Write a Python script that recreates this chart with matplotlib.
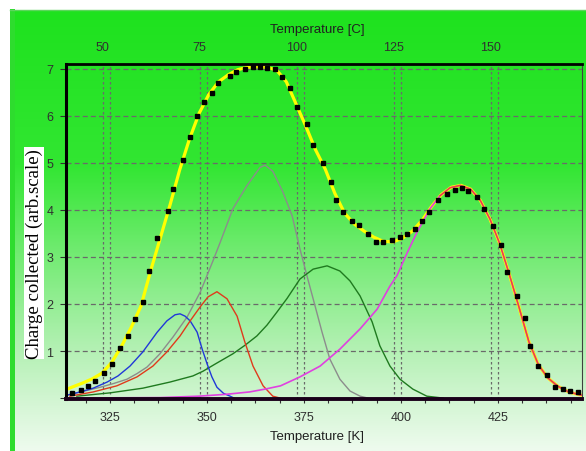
import numpy as np
import matplotlib
matplotlib.use("Agg")
import matplotlib.pyplot as plt
from matplotlib.colors import LinearSegmentedColormap
from matplotlib.patches import Rectangle
from matplotlib.ticker import MultipleLocator

plt.rcParams["font.family"] = ["Liberation Sans", "DejaVu Sans"]

# ── data (temperature in K, charge in arb. units) ──
data_x = [315.2, 317.6, 319.4, 321.2, 323.5, 325.6, 327.6, 329.7, 331.5, 333.5,
          335.1, 337.2, 340.0, 341.3, 343.9, 345.7, 347.5, 349.3, 351.3, 352.9,
          356.0, 357.5, 359.8, 361.9, 363.7, 365.5, 367.5, 369.4, 371.4, 373.2,
          375.8, 377.4, 380.0, 382.0, 383.3, 385.1, 387.4, 389.2, 391.5, 393.6,
          395.4, 397.7, 399.8, 401.6, 403.6, 405.4, 407.3, 409.6, 411.9, 414.0,
          415.8, 417.3, 419.6, 421.4, 423.8, 425.8, 427.4, 430.0, 432.0, 433.3,
          435.4, 437.7, 439.7, 441.8, 443.6, 445.7]
data_y = [0.11, 0.17, 0.26, 0.36, 0.53, 0.72, 1.06, 1.32, 1.68, 2.04,
          2.70, 3.40, 3.98, 4.45, 5.06, 5.55, 6.00, 6.30, 6.49, 6.70,
          6.85, 6.94, 7.00, 7.04, 7.04, 7.02, 7.00, 6.83, 6.60, 6.19,
          5.83, 5.38, 5.00, 4.60, 4.21, 3.96, 3.77, 3.68, 3.49, 3.32,
          3.32, 3.36, 3.43, 3.49, 3.60, 3.77, 3.96, 4.21, 4.34, 4.43,
          4.47, 4.40, 4.28, 4.02, 3.66, 3.26, 2.68, 2.17, 1.70, 1.11,
          0.68, 0.49, 0.23, 0.19, 0.15, 0.13]

fit_x = [313.7, 315.5, 318.0, 320.5, 323.0, 325.5, 328.0, 330.5, 333.0, 335.5,
         338.0, 340.5, 343.0, 345.5, 348.0, 350.5, 353.0, 355.5, 358.0, 360.5,
         363.0, 365.5, 368.0, 370.5, 373.0, 375.5, 378.0, 380.5, 383.0, 385.5,
         388.0, 390.5, 393.0, 395.5, 398.0, 400.5, 403.0, 405.5, 408.0, 410.5,
         413.0, 415.5, 418.0, 420.5, 423.0, 425.5, 428.0, 430.5, 433.0, 435.5,
         438.0, 440.5, 443.0, 445.5, 446.7]
fit_y = [0.18, 0.24, 0.32, 0.41, 0.53, 0.76, 1.10, 1.50, 1.95, 2.70,
         3.40, 4.10, 4.85, 5.50, 6.05, 6.45, 6.72, 6.87, 6.98, 7.03,
         7.04, 7.03, 6.97, 6.72, 6.25, 5.78, 5.28, 4.87, 4.35, 3.93,
         3.70, 3.55, 3.42, 3.33, 3.32, 3.40, 3.55, 3.78, 4.08, 4.33,
         4.48, 4.52, 4.44, 4.20, 3.80, 3.28, 2.62, 1.92, 1.20, 0.70,
         0.42, 0.25, 0.14, 0.08, 0.06]

blue_x = [313.9, 317.3, 320.7, 324.3, 327.1, 330.2, 333.5, 337.2, 339.7, 341.8,
          343.1, 344.4, 345.7, 347.5, 348.8, 350.1, 351.3, 352.6, 354.3, 356.0, 357.0]
blue_y = [0.06, 0.13, 0.21, 0.34, 0.47, 0.68, 0.98, 1.40, 1.64, 1.77,
          1.79, 1.74, 1.64, 1.40, 1.04, 0.72, 0.45, 0.23, 0.10, 0.04, 0.00]

red_x = [314.7, 320.7, 326.8, 332.0, 336.1, 339.7, 343.1, 345.7, 348.3, 350.3,
         352.6, 355.2, 357.8, 359.8, 361.9, 364.5, 367.0, 368.9]
red_y = [0.04, 0.13, 0.26, 0.45, 0.68, 0.98, 1.32, 1.64, 1.94, 2.15,
         2.26, 2.11, 1.74, 1.19, 0.68, 0.26, 0.04, 0.00]

gray_x = [313.9, 318.0, 322.5, 326.0, 329.4, 332.0, 334.6, 337.9, 341.3, 344.9,
          348.3, 351.6, 353.4, 356.7, 360.3, 363.7, 365.0, 367.0, 369.6, 372.0,
          374.0, 375.8, 377.4, 379.7, 381.7, 384.3, 386.9, 389.5, 391.5]
gray_y = [0.06, 0.14, 0.23, 0.31, 0.40, 0.52, 0.66, 0.94, 1.30, 1.72,
          2.25, 2.92, 3.30, 4.02, 4.51, 4.90, 4.95, 4.82, 4.38, 3.87,
          3.17, 2.60, 2.11, 1.40, 0.83, 0.40, 0.15, 0.04, 0.00]

green_x = [316.5, 325.0, 333.5, 340.5, 346.4, 349.0, 352.5, 356.7, 359.8, 362.9,
           365.5, 368.0, 370.7, 374.0, 377.4, 381.0, 384.3, 386.9, 389.5, 392.6,
           394.6, 397.2, 399.8, 403.1, 406.7, 410.9]
green_y = [0.04, 0.11, 0.21, 0.34, 0.47, 0.57, 0.74, 0.94, 1.12, 1.32,
           1.55, 1.82, 2.12, 2.53, 2.74, 2.81, 2.70, 2.49, 2.17, 1.62,
           1.11, 0.68, 0.40, 0.19, 0.04, 0.00]

mag_x = [313.7, 338.0, 348.0, 355.0, 361.0, 365.0, 369.0, 374.0, 379.2, 384.3,
         389.5, 393.9, 397.2, 399.0, 401.6, 404.2, 407.5, 410.1, 412.7, 415.3,
         418.0, 420.5, 423.0, 425.5, 428.0, 430.5, 433.0, 435.5, 438.0, 440.5,
         443.0, 445.5, 446.7]
mag_y = [0.00, 0.01, 0.04, 0.08, 0.13, 0.19, 0.26, 0.45, 0.68, 1.04,
         1.47, 1.89, 2.38, 2.60, 3.08, 3.53, 4.02, 4.30, 4.47, 4.52,
         4.44, 4.20, 3.80, 3.28, 2.62, 1.92, 1.20, 0.70, 0.42, 0.25,
         0.14, 0.08, 0.06]

red2_x = [410.1, 412.7, 415.3, 418.0, 420.5, 423.0, 425.5, 428.0, 430.5, 433.0,
          435.5, 438.0, 440.5, 443.0, 445.5, 446.7]
red2_y = [4.30, 4.47, 4.52, 4.44, 4.20, 3.80, 3.28, 2.62, 1.92, 1.20,
          0.70, 0.42, 0.25, 0.14, 0.08, 0.06]

k_ticks = [325, 350, 375, 400, 425]
c_ticks = [50, 75, 100, 125, 150]
y_ticks = [0, 1, 2, 3, 4, 5, 6, 7]
y_labels = ["", "1", "2", "3", "4", "5", "6", "7"]

W, H = 586, 452
fig = plt.figure(figsize=(W / 100, H / 100), dpi=100)
fig.patch.set_facecolor("white")

# ── background: green -> pale vertical gradient with a frame ──
bg = fig.add_axes([0, 0, 1, 1], zorder=-10)
bg.set_xlim(0, W)
bg.set_ylim(H, 0)
bg.axis("off")
cmap = LinearSegmentedColormap.from_list("bg", [
    (0.00, "#1ee21e"), (0.35, "#32e632"), (0.55, "#72eb72"),
    (0.75, "#aef0ae"), (0.90, "#d6f6d6"), (1.00, "#eefbee")])
bg.imshow(np.linspace(0, 1, 256)[:, None], cmap=cmap, aspect="auto",
          extent=(10, W, H, 12), interpolation="bilinear")
bg.add_patch(Rectangle((10, 10), 5, H - 10, color="#2edc2e", lw=0))
bg.plot([10, W], [10.5, 10.5], color="#5cd65c", lw=1)

# ── main axes ──
ax = fig.add_axes([66 / W, 52 / H, 516 / W, 335 / H])
ax.set_facecolor("none")
ax.set_xlim(313.7, 446.7)
ax.set_ylim(-0.02, 7.1)

ax.set_xticks(k_ticks)
ax.xaxis.set_minor_locator(MultipleLocator(6.25))
ax.set_yticks(y_ticks)
ax.set_yticklabels(y_labels)
ax.tick_params(axis="x", which="both", direction="out", length=3,
               width=0.8, pad=6, labelsize=9, colors="#303030")
ax.tick_params(axis="y", direction="out", length=4, width=0.8, pad=5,
               labelsize=9, colors="#303030")

# grid: horizontal dashed, vertical double dotted (K and C ticks)
ax.grid(True, axis="y", color="#6a6a6a", linestyle=(0, (4, 2.5)), lw=0.9)
ax.grid(True, axis="x", color="#6a6a6a", linestyle=(0, (2, 2)), lw=0.9)
for c in c_ticks:
    ax.axvline(c + 273.15, color="#6a6a6a", linestyle=(0, (2, 2)), lw=0.9, zorder=0.5)

for side, lw, col in [("left", 2.2, "black"), ("top", 2.0, "black"),
                      ("bottom", 2.8, "#1a001a"), ("right", 0.8, "#404040")]:
    ax.spines[side].set_linewidth(lw)
    ax.spines[side].set_color(col)

# components
ax.plot(gray_x, gray_y, color="#8c8c8c", lw=1.0)
ax.plot(green_x, green_y, color="#1f7a1f", lw=1.0)
ax.plot(blue_x, blue_y, color="#2038d8", lw=1.0)
ax.plot(red_x, red_y, color="#e03a1c", lw=1.0)
ax.plot(fit_x, fit_y, color="#ffff00", lw=2.3)
ax.plot(mag_x, mag_y, color="#e040e0", lw=1.2)
ax.plot(red2_x, red2_y, color="#f04a30", lw=1.0)
ax.plot(data_x, data_y, ls="none", marker="s", ms=2.2, color="black")

# top axis in Celsius
sec = ax.secondary_xaxis("top", functions=(lambda k: k - 273.15, lambda c: c + 273.15))
sec.set_xticks(c_ticks)
sec.tick_params(length=0, pad=8, labelsize=9, colors="#303030")
sec.spines["top"].set_visible(False)

fig.text(317 / W, 1 - 437 / H, "Temperature [K]", ha="center", va="center",
         fontsize=9.5, color="#202020")
fig.text(317 / W, 1 - 30 / H, "Temperature [C]", ha="center", va="center",
         fontsize=9.5, color="#202020")
fig.text(34 / W, 1 - 254 / H, "Charge collected (arb.scale)", rotation=90,
         ha="center", va="center", fontsize=13.5, family=["Liberation Serif"],
         color="black",
         bbox=dict(boxstyle="square,pad=0.05", facecolor="white", edgecolor="none"))

fig.savefig("out.png", dpi=100)
